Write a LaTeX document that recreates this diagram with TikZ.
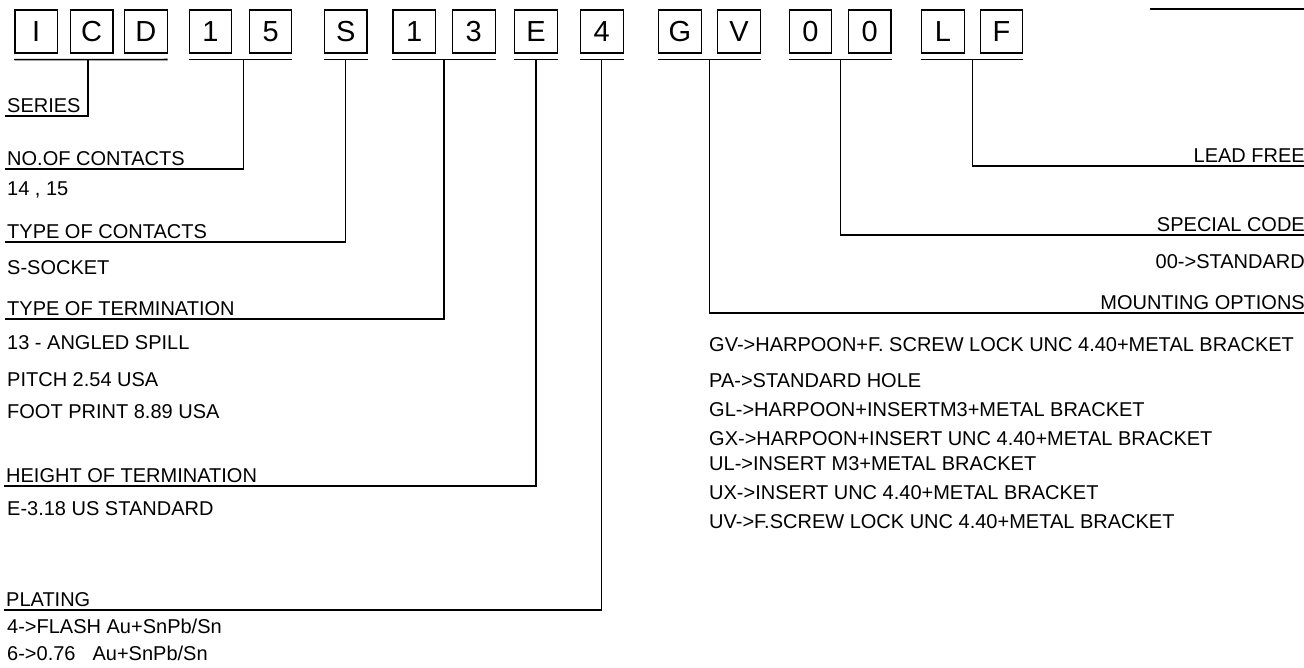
\documentclass[tikz,border=0pt]{standalone}
\usepackage{fontspec}
\setmainfont{Liberation Sans}
\usetikzlibrary{positioning, calc}

\begin{document}
\begin{tikzpicture}[
        x=1pt, y=-1pt,
        digit/.style={rectangle, draw, line width=1.1pt, minimum width=42.5pt, minimum height=43pt, inner sep=0pt, font=\fontsize{29}{29}\selectfont},
        bar/.style={line width=1.6pt},
        lead/.style={line width=1.2pt},
        title/.style={inner xsep=2pt, inner ysep=3pt, font=\fontsize{20}{22}\selectfont},
        info/.style={inner sep=0pt, anchor=base west, font=\fontsize{20}{22}\selectfont}
    ]
        \useasboundingbox (0,0) rectangle (1304,668);

        % Part number boxes
        \node[digit, line width=1.4pt] (i1) at (36.2,31.5) {I};
        \node[digit, line width=1.4pt, right=11.5pt of i1] (i2) {C};
        \node[digit, right=10.5pt of i2] (i3) {D};
        \node[digit] (n1) at (210.5,31.5) {1};
        \node[digit, right=16.5pt of n1] (n2) {5};
        \node[digit] (s1) at (345.7,31.5) {S};
        \node[digit] (t1) at (414.2,31.5) {1};
        \node[digit, right=16pt of t1] (t2) {3};
        \node[digit] (e1) at (536,31.5) {E};
        \node[digit] (p1) at (601.8,31.5) {4};
        \node[digit] (m1) at (679.8,31.5) {G};
        \node[digit, right=15.7pt of m1] (m2) {V};
        \node[digit] (c1) at (810.5,31.5) {0};
        \node[digit, right=15.6pt of c1] (c2) {0};
        \node[digit] (l1) at (942.9,31.5) {L};
        \node[digit, right=15pt of l1] (l2) {F};

        % Group bars
        \draw[bar] ([yshift=-6pt]i1.south west) -- ([yshift=-6pt]i3.south east);
        \draw[bar] ([yshift=-6pt]n1.south west) -- ([yshift=-6pt]n2.south east);
        \draw[bar] ([yshift=-6pt]s1.south west) -- ([yshift=-6pt]s1.south east);
        \draw[bar] ([yshift=-6pt]t1.south west) -- ([yshift=-6pt]t2.south east);
        \draw[bar] ([yshift=-6pt]e1.south west) -- ([yshift=-6pt]e1.south east);
        \draw[bar] ([yshift=-6pt]p1.south west) -- ([yshift=-6pt]p1.south east);
        \draw[bar] ([yshift=-6pt]m1.south west) -- ([yshift=-6pt]m2.south east);
        \draw[bar] ([yshift=-6pt]c1.south west) -- ([yshift=-6pt]c2.south east);
        \draw[bar] ([yshift=-6pt]l1.south west) -- ([yshift=-6pt]l2.south east);

        \path ($(i1.south west)!0.5!(i3.south east)$) ++(-3,6) coordinate (icd);
        \path ($(n1.south west)!0.5!(n2.south east)$) ++(3,6) coordinate (cnt);
        \path (s1.south) ++(0,6) coordinate (typ);
        \path ($(t1.south west)!0.5!(t2.south east)$) ++(0,6) coordinate (ter);
        \path (e1.south) ++(0,6) coordinate (hgt);
        \path (p1.south) ++(0,6) coordinate (pla);
        \path ($(m1.south west)!0.5!(m2.south east)$) ++(0,6) coordinate (mnt);
        \path ($(c1.south west)!0.5!(c2.south east)$) ++(0,6) coordinate (spc);
        \path ($(l1.south west)!0.5!(l2.south east)$) ++(0,6) coordinate (lfr);

        % Left side
        \node[title, anchor=south west] (series) at (5,116) {SERIES};
        \draw[lead] (icd) |- (series.south west);

        \node[title, anchor=south west] (contacts) at (5,169) {NO.OF CONTACTS};
        \draw[lead] (cnt) |- (contacts.south west);
        \node[info] (cntval) at (7,196) {14 , 15};

        \node[title, anchor=south west] (ctype) at (5,242) {TYPE OF CONTACTS};
        \draw[lead] (typ) |- (ctype.south west);
        \node[info] (typval) at (7,275) {S-SOCKET};

        \node[title, anchor=south west] (term) at (5,319) {TYPE OF TERMINATION};
        \draw[lead] (ter) |- (term.south west);
        \node[info] (ter1) at (7,349) {13 - ANGLED SPILL};
        \node[info] (ter2) at (7,386) {PITCH 2.54 USA};
        \node[info] (ter3) at (7,418) {FOOT PRINT 8.89 USA};

        \node[title, anchor=south west] (height) at (4,486) {HEIGHT OF TERMINATION};
        \draw[lead] (hgt) |- (height.south west);
        \node[info] (hgtval) at (7,515) {E-3.18 US STANDARD};

        \node[title, anchor=south west] (plating) at (4,610) {PLATING};
        \draw[lead] (pla) |- (plating.south west);
        \node[info] (pla1) at (7,633) {4->FLASH Au+SnPb/Sn};
        \node[info] (pla2) at (7,660) {6->0.76\hspace{17pt}Au+SnPb/Sn};

        % Right side
        \draw[bar] (1150,9) -- (1306,9);

        \node[title, anchor=south east] (leadfree) at (1307,166) {LEAD FREE};
        \draw[lead] (lfr) |- (leadfree.south east);

        \node[title, anchor=south east] (special) at (1307,235) {SPECIAL CODE};
        \draw[lead] (spc) |- (special.south east);
        \node[info, anchor=base east] (spcval) at (1305,269) {00->STANDARD};

        \node[title, anchor=south east] (mounting) at (1307,313) {MOUNTING OPTIONS};
        \draw[lead] (mnt) |- (mounting.south east);
        \node[info] (mnt1) at (709,352) {GV->HARPOON+F. SCREW LOCK UNC 4.40+METAL BRACKET};
        \node[info] (mnt2) at (709,387) {PA->STANDARD HOLE};
        \node[info] (mnt3) at (709,416) {GL->HARPOON+INSERTM3+METAL BRACKET};
        \node[info] (mnt4) at (709,445) {GX->HARPOON+INSERT UNC 4.40+METAL BRACKET};
        \node[info] (mnt5) at (709,470) {UL->INSERT M3+METAL BRACKET};
        \node[info] (mnt6) at (709,499) {UX->INSERT UNC 4.40+METAL BRACKET};
        \node[info] (mnt7) at (709,528) {UV->F.SCREW LOCK UNC 4.40+METAL BRACKET};

    \end{tikzpicture}
\end{document}
